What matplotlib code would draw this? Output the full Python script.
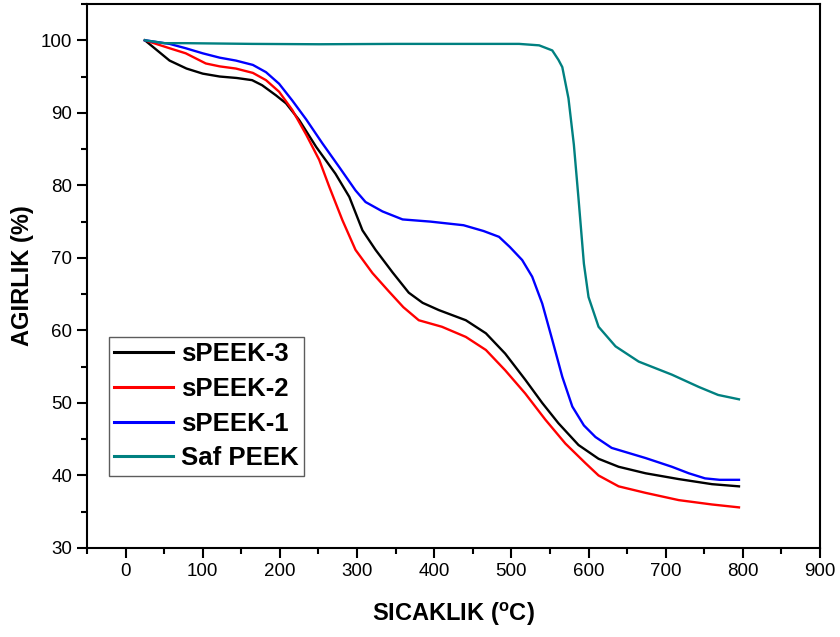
import matplotlib
matplotlib.use("Agg")
import matplotlib.pyplot as plt
from matplotlib.ticker import MultipleLocator

plt.rcParams['font.family'] = ['Liberation Sans', 'DejaVu Sans']
plt.rcParams['mathtext.fontset'] = 'custom'
plt.rcParams['mathtext.rm'] = 'Liberation Sans'
plt.rcParams['mathtext.bf'] = 'Liberation Sans:bold'

# sPEEK-3 (black)
x_s3 = [25, 57, 79, 100, 122, 144, 164, 177, 195, 208, 225, 247, 272, 290, 307, 324,
        346, 367, 385, 406, 441, 467, 492, 518, 540, 561, 587, 613, 639, 674, 717, 760, 795]
y_s3 = [100, 97.2, 96.1, 95.4, 95.0, 94.8, 94.5, 93.8, 92.4, 91.3, 89.0, 85.3, 81.6, 78.4, 73.8, 71.1,
        68.0, 65.2, 63.8, 62.8, 61.4, 59.6, 56.8, 53.2, 50.0, 47.2, 44.2, 42.3, 41.2, 40.3, 39.5, 38.8, 38.5]

# sPEEK-2 (red)
x_s2 = [25, 57, 78, 91, 104, 122, 143, 165, 182, 199, 216, 234, 251, 264, 281, 298, 320,
        341, 360, 380, 410, 441, 467, 492, 518, 544, 570, 596, 613, 639, 674, 717, 760, 795]
y_s2 = [100, 98.9, 98.2, 97.5, 96.8, 96.4, 96.1, 95.5, 94.5, 92.9, 90.4, 87.0, 83.5, 79.8, 75.2, 71.1, 67.9,
        65.4, 63.2, 61.4, 60.5, 59.1, 57.3, 54.5, 51.3, 47.7, 44.4, 41.7, 40.0, 38.5, 37.6, 36.6, 36.0, 35.6]

# sPEEK-1 (blue)
x_s1 = [25, 57, 78, 100, 122, 143, 165, 182, 199, 216, 234, 255, 277, 298, 311, 333, 359,
        395, 438, 464, 484, 498, 514, 527, 540, 553, 566, 579, 594, 609, 630, 674, 708, 730, 751, 770, 795]
y_s1 = [100, 99.5, 98.9, 98.2, 97.6, 97.2, 96.6, 95.6, 94.0, 91.7, 89.1, 85.8, 82.5, 79.3, 77.7, 76.4, 75.3,
        75.0, 74.5, 73.7, 72.9, 71.5, 69.7, 67.4, 63.7, 58.7, 53.6, 49.5, 46.9, 45.3, 43.8, 42.4, 41.2, 40.3, 39.6, 39.4, 39.4]

# Saf PEEK (teal)
x_p = [25, 50, 78, 164, 251, 350, 450, 510, 536, 553, 561, 566, 574, 581, 587, 594, 600, 613,
       635, 665, 708, 743, 768, 795]
y_p = [100, 99.6, 99.6, 99.5, 99.45, 99.5, 99.5, 99.5, 99.3, 98.6, 97.3, 96.3, 92.0, 85.6, 78.2, 69.2, 64.6, 60.5,
       57.8, 55.7, 53.9, 52.2, 51.1, 50.5]

series = [
    ("sPEEK-3", x_s3, y_s3, "#000000"),
    ("sPEEK-2", x_s2, y_s2, "#ff0000"),
    ("sPEEK-1", x_s1, y_s1, "#0000ff"),
    ("Saf PEEK", x_p, y_p, "#008080"),
]

fig = plt.figure(figsize=(8.4, 6.37), dpi=100)
ax = fig.add_axes([87/840, 1-548/637, (820-87)/840, (548-4)/637])

for name, xs, ys, c in series:
    ax.plot(xs, ys, color=c, lw=1.7, label=name, solid_joinstyle='round')

ax.set_xlim(-50, 900)
ax.set_ylim(30, 105)
ax.xaxis.set_major_locator(MultipleLocator(100))
ax.xaxis.set_minor_locator(MultipleLocator(50))
ax.yaxis.set_major_locator(MultipleLocator(10))
ax.yaxis.set_minor_locator(MultipleLocator(5))
ax.tick_params(which='both', direction='out', width=1.5, labelsize=13.5,
               top=False, right=False)
ax.tick_params(which='major', length=7)
ax.tick_params(which='minor', length=4.5)
for s in ax.spines.values():
    s.set_linewidth(1.5)

ax.set_xlabel(r'SICAKLIK ($\mathbf{^{o}}$C)', fontsize=17, fontweight='bold', labelpad=15)
ax.set_ylabel('AGIRLIK (%)', fontsize=17, fontweight='bold', labelpad=5)

leg = ax.legend(loc='upper left', bbox_to_anchor=(0.030, 0.388),
                prop={'weight': 'bold', 'size': 18.5}, frameon=True, fancybox=False,
                handlelength=2.3, handletextpad=0.3, labelspacing=0.42,
                borderpad=0.2, borderaxespad=0)
leg.get_frame().set_edgecolor('#333333')
leg.get_frame().set_linewidth(1.0)
for l in leg.get_lines():
    l.set_linewidth(2.2)

fig.savefig('out.png', dpi=100)
